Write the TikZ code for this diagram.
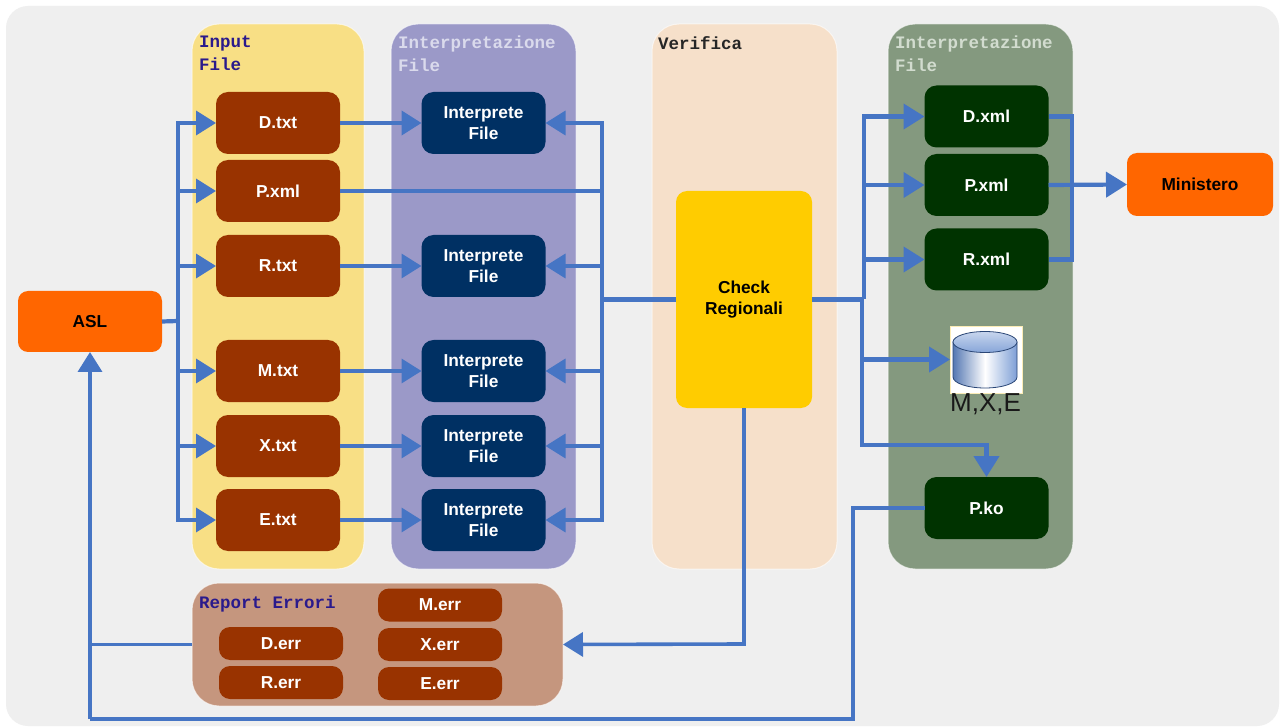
\documentclass[tikz,border=0pt]{standalone}
\usepackage{fontspec}
\setmainfont{Liberation Sans}
\newfontfamily\labelfont{Liberation Mono}
\usetikzlibrary{arrows.meta,calc}
\definecolor{bgc}{HTML}{EFEFEF}
\definecolor{yellowp}{HTML}{F8DF85}
\definecolor{purplep}{HTML}{9B99C8}
\definecolor{peachp}{HTML}{F6E0CA}
\definecolor{greenp}{HTML}{84997F}
\definecolor{reportp}{HTML}{C5967E}
\definecolor{brownb}{HTML}{993300}
\definecolor{navyb}{HTML}{003063}
\definecolor{greenb}{HTML}{003300}
\definecolor{orangeb}{HTML}{FF6600}
\definecolor{checkb}{HTML}{FFCC00}
\definecolor{flowc}{HTML}{4675C4}
\definecolor{navyt}{HTML}{2A1A8C}
\definecolor{lavt}{HTML}{DADAEC}
\definecolor{grnt}{HTML}{D2DCCF}
\tikzset{
  panel/.style={rounded corners=27pt,draw=white,draw opacity=.6,line width=1pt,outer sep=0pt,inner sep=0pt},
  box/.style={rounded corners=12pt,outer sep=0pt,inner sep=0pt,align=center,font=\bfseries\fontsize{17.3}{21}\selectfont,text=white,minimum width=124pt,minimum height=62pt},
  brownbox/.style={box,fill=brownb},
  navybox/.style={box,fill=navyb},
  greenbox/.style={box,fill=greenb},
  errbox/.style={box,fill=brownb,minimum height=33pt,rounded corners=11pt},
  orangebox/.style={box,fill=orangeb,text=black,rounded corners=10pt},
  paneltitle/.style={anchor=north west,inner sep=0pt,align=left,font=\labelfont\bfseries\fontsize{17.5}{23}\selectfont},
  flow/.style={draw=flowc,line width=4.2pt},
  arr/.style={flow,-{Triangle[length=21pt,width=25pt]}},
  arrs/.style={flow,line width=3.6pt,-{Triangle[length=20pt,width=24pt]}},
}
\begin{document}
\begin{tikzpicture}[x=1pt,y=-1pt]
\useasboundingbox (0,0) rectangle (1283,727);
\fill[white] (0,0) rectangle (1283,727);
\fill[bgc,rounded corners=22pt] (6,6) rectangle (1279,726);
% panels
\node[panel,fill=yellowp,minimum width=172pt,minimum height=545pt] (pinput) at (278,296.5) {};
\node[panel,fill=purplep,minimum width=185pt,minimum height=545pt] (pinterp) at (483.5,296.5) {};
\node[panel,fill=peachp,minimum width=185pt,minimum height=545pt] (pverif) at (744.5,296.5) {};
\node[panel,fill=greenp,minimum width=185pt,minimum height=545pt] (pout) at (980.5,296.5) {};
\node[panel,fill=reportp,minimum width=371pt,minimum height=123pt] (preport) at (377.5,644.5) {};
% titles
\node[paneltitle,text=navyt] (t1) at (199,36) {Input\\File};
\node[paneltitle,text=lavt] (t2) at (398,36) {Interpretazione\\File};
\node[paneltitle,text=black!85] (t3) at (658,36) {Verifica};
\node[paneltitle,text=grnt] (t4) at (895,36) {Interpretazione\\File};
\node[paneltitle,text=navyt] (t5) at (199,596) {Report Errori};
% input
\node[brownbox] (dtxt) at (278,123) {D.txt};
\node[brownbox] (pxml) at (278,191) {P.xml};
\node[brownbox] (rtxt) at (278,266) {R.txt};
\node[brownbox] (mtxt) at (278,371) {M.txt};
\node[brownbox] (xtxt) at (278,446) {X.txt};
\node[brownbox] (etxt) at (278,520) {E.txt};
% interpreters
\node[navybox] (id) at (483.5,123) {Interprete\\File};
\node[navybox] (ir) at (483.5,266) {Interprete\\File};
\node[navybox] (im) at (483.5,371) {Interprete\\File};
\node[navybox] (ix) at (483.5,446) {Interprete\\File};
\node[navybox] (ie) at (483.5,520) {Interprete\\File};
% output
\node[greenbox] (dx) at (986.5,116.5) {D.xml};
\node[greenbox] (px) at (986.5,185) {P.xml};
\node[greenbox] (rx) at (986.5,259.5) {R.xml};
\node[greenbox] (pko) at (986.5,508) {P.ko};
% others
\node[orangebox,minimum width=144pt,minimum height=61pt] (asl) at (90,321.5) {ASL};
\node[orangebox,minimum width=146pt,minimum height=63pt] (min) at (1200,184.5) {Ministero};
\node[box,fill=checkb,text=black,minimum width=136pt,minimum height=217pt,rounded corners=11pt] (check) at (744,299.5) {Check\\Regionali};
% errors
\node[errbox] (derr) at (281,643.5) {D.err};
\node[errbox] (rerr) at (281,682.5) {R.err};
\node[errbox] (merr) at (440,605) {M.err};
\node[errbox] (xerr) at (440,644.5) {X.err};
\node[errbox] (eerr) at (440,683.5) {E.err};
% database
\node[fill=white,draw=yellowp!60,line width=.8pt,minimum width=72pt,minimum height=67pt,inner sep=0pt,outer sep=0pt] (db) at (986,359.5) {};
\shade[left color=flowc!75!gray,right color=flowc!70!white,middle color=white,draw=flowc!60!black,line width=.8pt]
  (953,342) -- (953,377) arc[start angle=180,end angle=360,x radius=32pt,y radius=11pt] -- (1017,342) -- cycle;
\shade[top color=flowc!30!white,bottom color=flowc!65!white,draw=flowc!60!black,line width=.8pt] (985,342) ellipse[x radius=32pt,y radius=10.5pt];
\node[inner sep=0pt,font=\fontsize{26}{30}\selectfont,text=black!90] (mxe) at (985.5,404) {M,X,E};
% flows left
\coordinate (busl) at (178,321);
\draw[flow] (asl.east) -- (busl);
\foreach \n in {dtxt,pxml,rtxt,mtxt,xtxt,etxt}{
  \draw[arrs] (busl) |- (\n.west);
}
% flows middle
\draw[arrs,line width=4.2pt] (dtxt.east) -- (id.west);
\draw[arrs] (rtxt.east) -- (ir.west);
\draw[arrs] (mtxt.east) -- (im.west);
\draw[arrs] (xtxt.east) -- (ix.west);
\draw[arrs] (etxt.east) -- (ie.west);
\coordinate (busr) at (602,299.5);
\draw[flow,line width=3.6pt] (pxml.east) -- (pxml.east -| busr);
\foreach \n in {id,ir,im,ix,ie}{
  \draw[arrs] (busr) |- (\n.east);
}
\draw[flow,line width=4.6pt] (check.west) -- (busr);
% flows right
\coordinate (busc) at (864,299.5);
\coordinate (busd) at (862,299.5);
\coordinate (pkoturn) at (862,445);
\draw[flow,line width=4.6pt] (check.east) -- (busc);
\draw[arr] (busc) |- (dx.west);
\draw[arr] (busc) |- (px.west);
\draw[arr] (busc) |- (rx.west);
\draw[arr] (busd) |- (db.west);
\draw[arr] (busd) -- (pkoturn) -| (pko.north);
% outputs
\coordinate (busm) at (1072,184.5);
\draw[flow] (dx.east) -| (busm);
\draw[flow] (rx.east) -| (busm);
\draw[arr] (px.east) -- (min.west);
% feedback
\coordinate (errturn) at (744,644);
\coordinate (loopa) at (853,719);
\coordinate (loopb) at (90,719);
\draw[arrs] (check.south) -- (errturn) -- (preport.east);
\draw[flow,line width=3.6pt] (preport.west) -- (preport.west -| asl.south);
\draw[flow,line width=3.6pt] (pko.west) -| (loopa) -- (loopb);
\draw[arrs] (loopb) -- (asl.south);
\end{tikzpicture}
\end{document}
